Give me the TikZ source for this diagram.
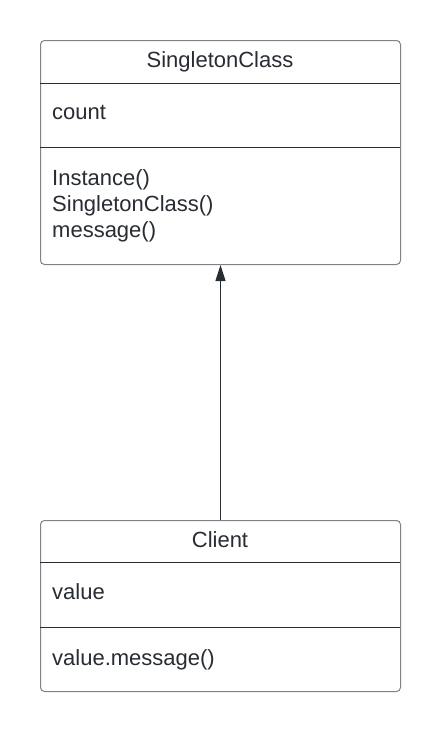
\documentclass[tikz,border=0pt]{standalone}
\usepackage{fontspec}
\setmainfont{Liberation Sans}
\usetikzlibrary{arrows.meta}
\definecolor{ink}{HTML}{282C33}
\definecolor{frame}{HTML}{808288}

\begin{document}
\begin{tikzpicture}[x=1pt, y=-1pt,
	umlbox/.style={draw=frame, line width=1pt, rounded corners=4pt, minimum width=360pt, inner sep=0pt, anchor=north west},
	umltext/.style={text=ink, font=\fontsize{22}{26}\selectfont, inner sep=0pt, anchor=base},
	divider/.style={draw=ink, line width=0.9pt}]
			%%%%% START %%%%%
			
			\useasboundingbox[fill=white] (0, 0) rectangle (440, 731);
			
			% singleton class
			\node[umlbox, minimum height=224pt] (single) at (40, 40) {};
			\node[umltext] (singletitle) at (220, 67) {SingletonClass};
			\draw[divider] (40, 83) -- (400, 83);
			\node[umltext, anchor=base west] (count) at (52, 119) {count};
			\draw[divider] (40, 147) -- (400, 147);
			\node[umltext, anchor=base west, align=left] (methods) at (52, 237) {Instance()\\SingletonClass()\\message()};
			
			% client
			\node[umlbox, minimum height=171pt] (client) at (40, 520) {};
			\node[umltext] (clienttitle) at (220, 547) {Client};
			\draw[divider] (40, 562) -- (400, 562);
			\node[umltext, anchor=base west] (value) at (52, 599) {value};
			\draw[divider] (40, 627) -- (400, 627);
			\node[umltext, anchor=base west] (call) at (52, 665) {value.message()};
			
			% dependency
			\draw[draw=ink, line width=1pt, -{Triangle[length=16pt, width=10pt]}] (client.north) -- (single.south);
			
			%%%%% END %%%%%
\end{tikzpicture}
\end{document}
